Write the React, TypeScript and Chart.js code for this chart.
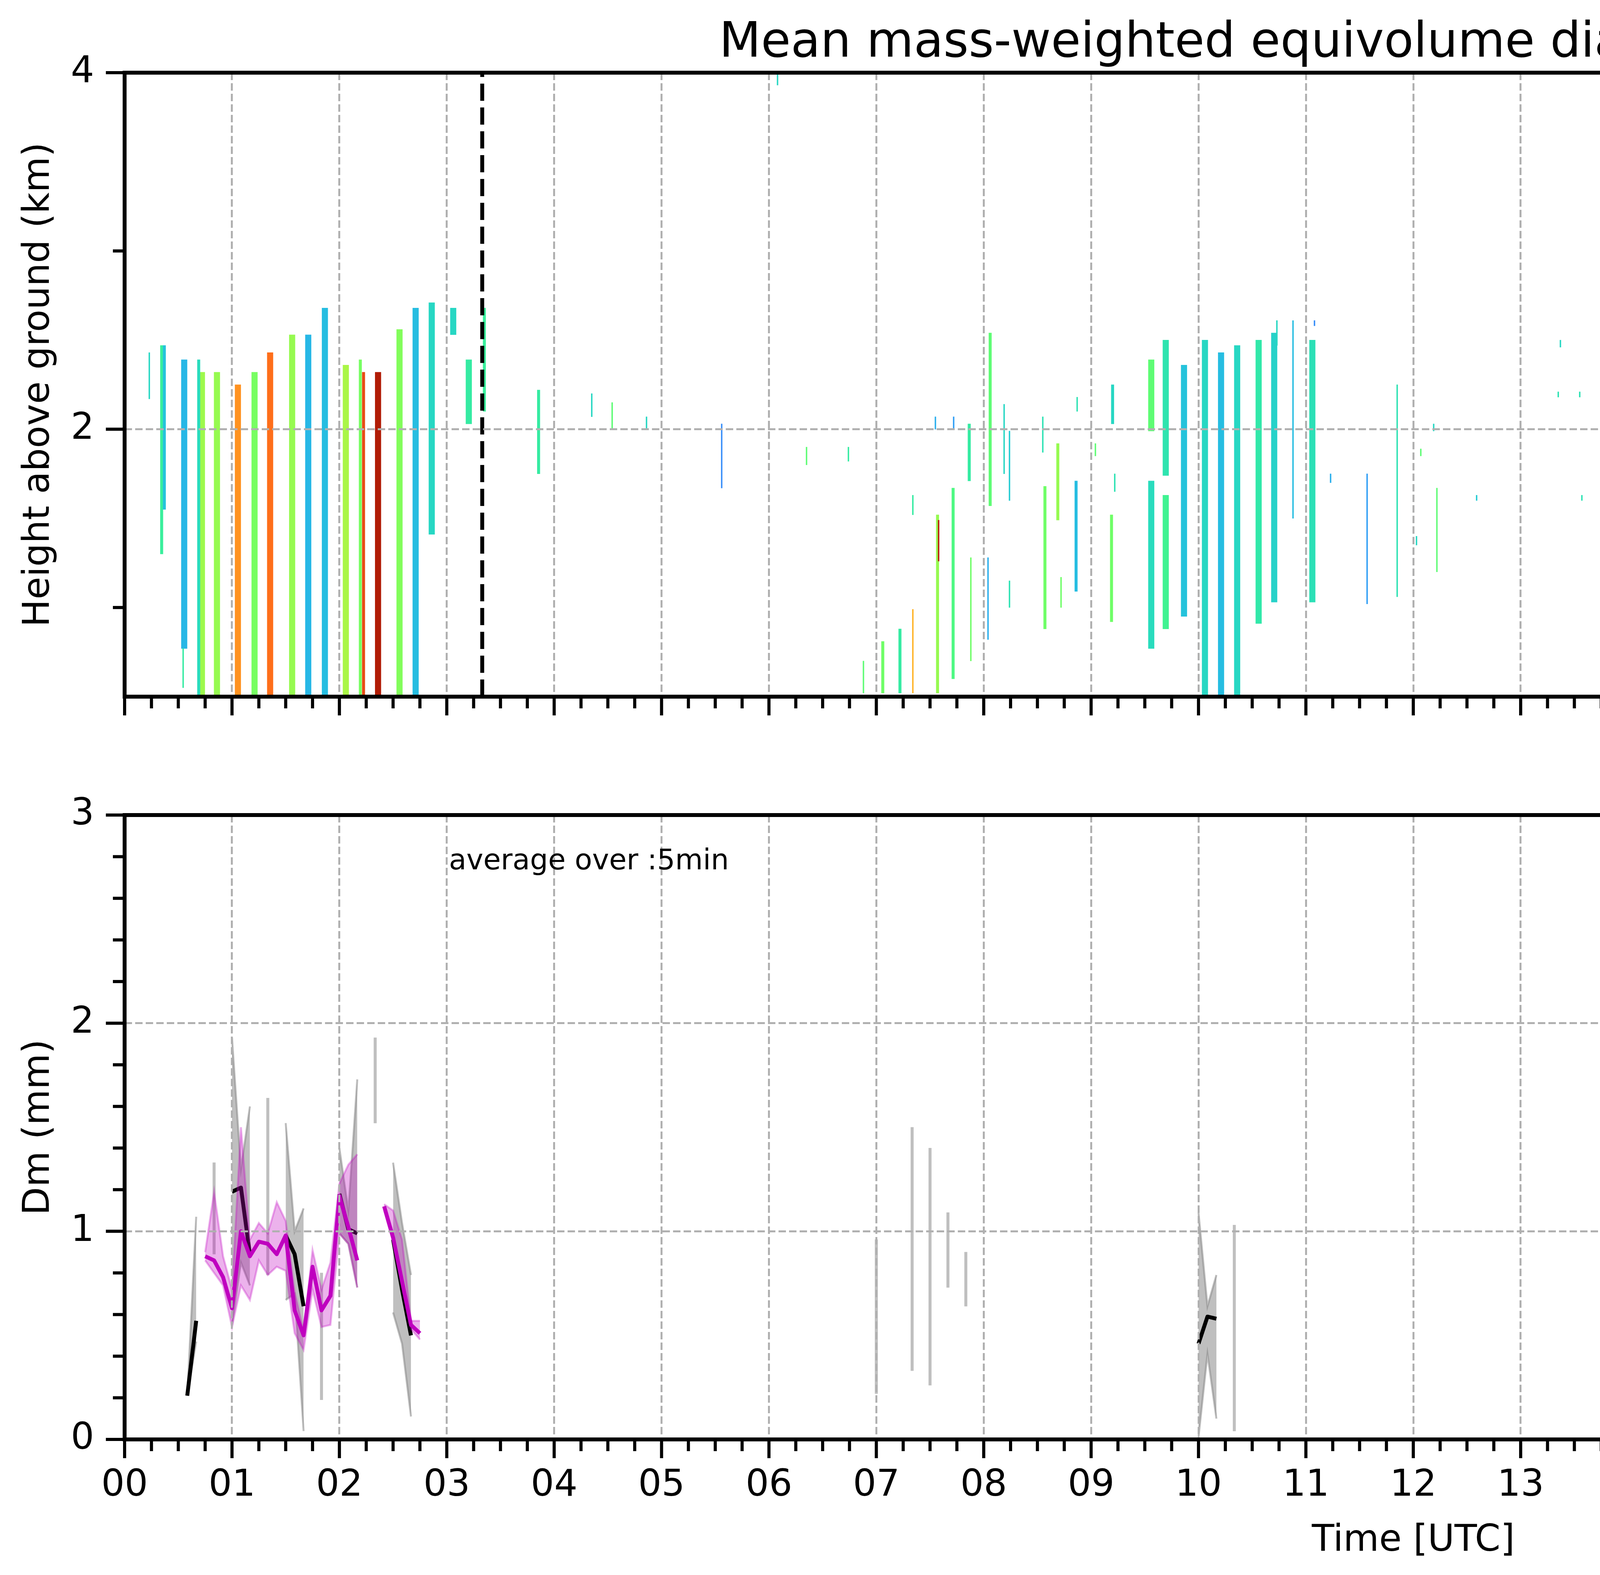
import { useEffect, useRef } from "react"
import { Chart, registerables } from "chart.js"

Chart.register(...registerables)

const FONT = "'DejaVu Sans', 'Liberation Sans', sans-serif"
Chart.defaults.font.family = FONT
Chart.defaults.color = "#000"

// ---------- top panel: radar Dm echoes [hour, base km, top km, Dm mm] ----------
const rainColumns: number[][] = [
  [0.555, 0.77, 2.39, 0.48],
  [0.72, 0.5, 2.32, 1.02],
  [0.86, 0.5, 2.32, 1.0],
  [1.055, 0.5, 2.25, 1.45],
  [1.21, 0.5, 2.32, 0.92],
  [1.355, 0.5, 2.43, 1.55],
  [1.56, 0.5, 2.53, 1.0],
  [1.71, 0.5, 2.53, 0.48],
  [1.865, 0.5, 2.68, 0.5],
  [2.06, 0.5, 2.36, 1.05],
  [2.36, 0.5, 2.32, 1.82],
  [2.56, 0.5, 2.56, 0.95],
  [2.71, 0.5, 2.68, 0.5],
  [2.86, 1.41, 2.71, 0.6],
  [3.06, 2.53, 2.68, 0.6],
  [3.205, 2.03, 2.39, 0.7],
  [9.56, 1.99, 2.39, 0.85],
  [9.56, 0.77, 1.71, 0.62],
  [9.695, 1.74, 2.5, 0.66],
  [9.695, 0.88, 1.63, 0.75],
  [9.865, 0.95, 2.36, 0.52],
  [10.06, 0.5, 2.5, 0.6],
  [10.21, 0.5, 2.43, 0.5],
  [10.36, 0.5, 2.47, 0.6],
  [10.56, 0.91, 2.5, 0.68],
  [10.705, 1.03, 2.54, 0.58],
  [11.06, 1.03, 2.5, 0.64],
  [18.06, 0.52, 2.36, 0.68],
]

const echoStrips: number[][] = [
  [0.345, 1.3, 2.47, 0.72],
  [0.37, 1.55, 2.47, 0.52],
  [0.69, 0.5, 2.39, 0.62],
  [2.195, 0.5, 2.39, 0.92],
  [2.225, 0.5, 2.32, 1.65],
  [3.35, 2.1, 2.68, 0.72],
  [3.855, 1.75, 2.22, 0.7],
  [7.06, 0.52, 0.81, 0.9],
  [7.22, 0.52, 0.88, 0.7],
  [7.57, 0.52, 1.52, 1.0],
  [7.715, 0.6, 1.67, 0.8],
  [7.865, 1.71, 2.03, 0.7],
  [8.06, 1.57, 2.54, 0.85],
  [8.57, 0.88, 1.68, 0.9],
  [8.69, 1.49, 1.92, 1.0],
  [8.86, 1.09, 1.71, 0.5],
  [9.2, 2.03, 2.25, 0.6],
  [9.19, 0.92, 1.52, 0.9],
  [18.2, 0.52, 1.16, 0.5],
  [21.35, 3.26, 3.62, 0.6],
  [23.19, 3.58, 3.77, 0.65],
]

const echoSpecks: number[][] = [
  [0.23, 2.17, 2.43, 0.6],
  [0.545, 0.55, 0.77, 0.7],
  [4.35, 2.07, 2.2, 0.6],
  [4.54, 2.0, 2.15, 0.85],
  [4.86, 2.0, 2.07, 0.6],
  [5.56, 1.67, 2.03, 0.35],
  [6.08, 3.93, 3.99, 0.6],
  [6.35, 1.8, 1.9, 0.85],
  [6.74, 1.82, 1.9, 0.7],
  [6.88, 0.52, 0.7, 0.85],
  [7.34, 1.52, 1.63, 0.7],
  [7.34, 0.52, 0.99, 1.35],
  [7.58, 1.26, 1.49, 1.8],
  [7.55, 2.0, 2.07, 0.45],
  [7.72, 2.0, 2.07, 0.4],
  [7.88, 0.7, 1.28, 0.9],
  [8.04, 0.82, 1.28, 0.45],
  [8.19, 1.75, 2.14, 0.6],
  [8.24, 1.6, 1.99, 0.55],
  [8.24, 1.0, 1.15, 0.65],
  [8.55, 1.87, 2.07, 0.65],
  [8.72, 1.0, 1.17, 0.9],
  [8.87, 2.1, 2.18, 0.65],
  [9.04, 1.85, 1.92, 0.85],
  [9.22, 1.65, 1.75, 0.65],
  [10.73, 2.47, 2.61, 0.6],
  [10.88, 1.5, 2.61, 0.5],
  [11.08, 2.58, 2.61, 0.35],
  [11.23, 1.7, 1.75, 0.45],
  [11.57, 1.02, 1.75, 0.4],
  [11.85, 1.06, 2.25, 0.65],
  [12.03, 1.35, 1.4, 0.6],
  [12.07, 1.85, 1.89, 0.85],
  [12.19, 1.99, 2.03, 0.6],
  [12.22, 1.2, 1.67, 0.85],
  [12.59, 1.6, 1.63, 0.55],
  [13.37, 2.46, 2.5, 0.6],
  [13.35, 2.18, 2.21, 0.65],
  [13.55, 2.18, 2.21, 0.65],
  [13.57, 1.6, 1.63, 0.65],
  [14.55, 1.96, 2.03, 0.7],
  [14.74, 1.92, 2.15, 1.05],
  [14.72, 1.81, 1.96, 0.6],
  [15.22, 3.83, 3.87, 0.3],
  [15.2, 1.9, 1.99, 0.8],
  [15.35, 1.78, 1.92, 0.5],
  [16.06, 2.57, 2.6, 0.6],
  [16.36, 2.18, 2.21, 0.6],
  [16.7, 1.92, 2.03, 0.55],
  [16.85, 1.7, 1.74, 0.4],
  [17.87, 1.67, 1.96, 0.35],
  [18.2, 1.81, 1.96, 0.55],
  [18.53, 2.5, 2.54, 1.25],
  [20.38, 3.4, 3.44, 0.6],
  [20.89, 3.69, 3.73, 0.35],
  [21.23, 2.33, 2.65, 0.75],
  [21.35, 1.6, 1.68, 0.55],
  [21.58, 3.73, 3.8, 0.65],
  [22.58, 3.44, 3.51, 0.5],
  [23.2, 3.3, 3.44, 0.6],
  [23.55, 3.4, 3.43, 0.6],
  [23.56, 3.42, 3.53, 0.75],
  [23.85, 3.77, 3.87, 0.8],
]

const heightRange = [0.5, 4]
const heightTicks = [2, 4]
const heightMinor = [1, 3]
const missingSpan = [23.89, 24]
const segmentMarkers = [3.33, 19.25]

// ---------- bottom panel: 5-min Dm statistics (minutes of day, mm) ----------
const radarMinutes = [
  35, 40, 45, 50, 55, 60, 65, 70, 75, 80, 85, 90, 95, 100, 105, 110, 115, 120, 125, 130, 135, 140, 145, 150, 155, 160,
  165, 415, 420, 425, 435, 440, 445, 450, 455, 460, 465, 470, 475, 595, 600, 605, 610, 615, 620, 625, 1075, 1080, 1085,
  1090, 1095,
]
const radarMedian = [
  0.21, 0.57, null, 1.1, null, 1.19, 1.21, 0.89, null, 1.2, null, 0.98, 0.89, 0.64, null, 0.45, null, 1.18, 1.01, 0.99,
  null, 1.72, null, 0.96, 0.72, 0.5, null, null, 0.6, null, null, 0.9, null, 0.8, null, 0.9, null, 0.77, null, null, 0.46,
  0.59, 0.58, null, 0.5, null, null, 0.5, null, 0.6, null,
]
const radarMin = [
  0.21, 0.47, null, 0.89, null, 0.55, 0.85, 0.74, null, 0.79, null, 0.67, 0.7, 0.04, null, 0.19, null, 0.99, 0.94, 0.73,
  null, 1.52, null, 0.61, 0.46, 0.11, null, null, 0.22, null, null, 0.33, null, 0.26, null, 0.73, null, 0.64, null, null,
  0.01, 0.41, 0.1, null, 0.04, null, null, 0.02, null, 0.25, null,
]
const radarMax = [
  0.21, 1.07, null, 1.33, null, 1.93, 1.3, 1.6, null, 1.64, null, 1.52, 1.0, 1.11, null, 0.8, null, 1.4, 1.1, 1.73, null,
  1.93, null, 1.33, 1.04, 0.79, null, null, 0.96, null, null, 1.5, null, 1.4, null, 1.09, null, 0.9, null, null, 1.09,
  0.64, 0.79, null, 1.03, null, null, 1.03, null, 0.95, null,
]

const parsivelMinutes = [
  45, 50, 55, 60, 65, 70, 75, 80, 85, 90, 95, 100, 105, 110, 115, 120, 125, 130, 135, 140, 145, 150, 155, 160, 165,
]
const parsivelMedian = [
  0.88, 0.86, 0.78, 0.63, 1.0, 0.88, 0.95, 0.94, 0.89, 0.98, 0.62, 0.5, 0.83, 0.62, 0.69, 1.17, 1.02, 0.86, null, null,
  1.12, 0.97, 0.76, 0.55, 0.51,
]
const parsivelMin = [
  0.86, 0.8, 0.74, 0.54, 0.74, 0.67, 0.86, 0.79, 0.83, 0.81, 0.51, 0.43, 0.72, 0.54, 0.55, 0.99, 0.94, 0.73, null, null,
  1.1, 0.95, 0.74, 0.53, 0.48,
]
const parsivelMax = [
  0.9, 1.19, 0.88, 0.72, 1.5, 0.96, 1.04, 0.99, 1.14, 1.05, 0.71, 0.52, 0.91, 0.72, 0.85, 1.23, 1.32, 1.37, null, null,
  1.13, 1.1, 0.96, 0.57, 0.57,
]

const dmTicks = [0, 1, 2, 3]
const colorbarTicks = [0, 0.4, 0.8, 1.2, 1.6, 2.0]
const legendLabels = [
  "Min-Max Range radar Dm",
  "radar(xmacs-wmacs)_Dm_median",
  "Min-Max Range parsivel Dm",
  "parsivel_Dm_median",
]

const hourTicks = Array.from({ length: 25 }, (_, i) => i)
const quarterTicks = Array.from({ length: 97 }, (_, i) => i / 4).filter((v) => v % 1 !== 0)
const dmMinor = Array.from({ length: 16 }, (_, i) => i / 5).filter((v) => v % 1 !== 0)

// turbo colormap (polynomial fit)
function turbo(t: number) {
  const x = Math.min(1, Math.max(0, t))
  const r = 0.13572138 + x * (4.6153926 + x * (-42.66032258 + x * (132.13108234 + x * (-152.94239396 + x * 59.28637943))))
  const g = 0.09140261 + x * (2.19418839 + x * (4.84296658 + x * (-14.18503333 + x * (4.27729857 + x * 2.82956604))))
  const b = 0.1066733 + x * (12.64194608 + x * (-60.58204836 + x * (110.36276771 + x * (-89.90310912 + x * 27.34824973))))
  const c = (v: number) => Math.round(255 * Math.min(1, Math.max(0, v)))
  return `rgb(${c(r)},${c(g)},${c(b)})`
}

const cbMax = colorbarTicks[colorbarTicks.length - 1]

function echoDataset(rows: number[][], thickness: number): any {
  return {
    type: "bar",
    data: rows.map(([t, lo, hi]) => ({ x: t, y: [lo, hi] })),
    backgroundColor: rows.map((r) => turbo(r[3] / cbMax)),
    borderWidth: 0,
    barThickness: thickness,
    grouped: false,
    order: 1,
  }
}

const toPoints = (mins: number[], vals: (number | null)[]) => mins.map((m, i) => ({ x: m / 60, y: vals[i] }))

// ranges with no neighbours are drawn as thin vertical bars
const isolatedRanges = (mins: number[], lo: (number | null)[], hi: (number | null)[]) =>
  mins.flatMap((m, i) =>
    hi[i] != null && hi[i - 1] == null && hi[i + 1] == null ? [{ x: m / 60, y: [lo[i], hi[i]] }] : []
  )

// fixed axis box sizes, no extra label padding around the plot area
const fixWidth = (w: number) => (s: any) => {
  s.width = w
  s.paddingTop = 0
  s.paddingBottom = 0
}
const fixHeight = (h: number) => (s: any) => {
  s.height = h
  s.paddingLeft = 0
  s.paddingRight = 0
}

// axis frame + matplotlib-like major/minor tick marks
function axesDecor(id: string, yMajor: number[], yMinor: number[], extra?: (chart: any) => void) {
  return {
    id,
    afterDraw(chart: any) {
      const { ctx, chartArea: a, scales } = chart
      ctx.save()
      ctx.strokeStyle = "#000"
      ctx.lineCap = "butt"
      ctx.lineWidth = 8
      const tick = (x1: number, y1: number, x2: number, y2: number) => {
        ctx.beginPath()
        ctx.moveTo(x1, y1)
        ctx.lineTo(x2, y2)
        ctx.stroke()
      }
      hourTicks.forEach((v) => {
        const px = scales.x.getPixelForValue(v)
        tick(px, a.bottom, px, a.bottom + 48)
      })
      quarterTicks.forEach((v) => {
        const px = scales.x.getPixelForValue(v)
        tick(px, a.bottom, px, a.bottom + 30)
      })
      yMajor.forEach((v) => {
        const py = scales.y.getPixelForValue(v)
        tick(a.left - 48, py, a.left, py)
      })
      yMinor.forEach((v) => {
        const py = scales.y.getPixelForValue(v)
        tick(a.left - 30, py, a.left, py)
      })
      ctx.lineWidth = 10
      ctx.strokeRect(a.left, a.top, a.right - a.left, a.bottom - a.top)
      ctx.restore()
      if (extra) extra(chart)
    },
  }
}

const gridStyle = {
  color: "#b0b0b0",
  lineWidth: 5,
  drawTicks: false,
  z: 1,
  offset: false,
}
const gridBorder = { display: false, dash: [19, 8] }

export default function App() {
  const topRef = useRef<HTMLCanvasElement>(null)
  const bottomRef = useRef<HTMLCanvasElement>(null)
  const barRef = useRef<HTMLCanvasElement>(null)

  useEffect(() => {
    if (!topRef.current || !bottomRef.current || !barRef.current) return

    const top = new Chart(topRef.current, {
      type: "line",
      data: {
        datasets: [
          ...segmentMarkers.map((h) => ({
            type: "line",
            data: heightRange.map((y) => ({ x: h, y })),
            borderColor: "#000",
            borderWidth: 10,
            borderDash: [44, 17],
            pointRadius: 0,
            order: 0,
          })),
          echoDataset(echoSpecks, 3),
          echoDataset(echoStrips, 7),
          echoDataset(rainColumns, 15),
          {
            type: "line",
            data: missingSpan.map((x) => ({ x, y: heightRange[1] })),
            fill: "start",
            backgroundColor: "#dcdcdc",
            borderWidth: 0,
            pointRadius: 0,
            order: 3,
          },
        ] as any,
      },
      options: {
        animation: false,
        responsive: false,
        devicePixelRatio: 1,
        layout: { padding: { top: 186, right: 23, bottom: 0, left: 0 } },
        plugins: { legend: { display: false }, tooltip: { enabled: false } },
        scales: {
          x: {
            type: "linear",
            min: 0,
            max: 24,
            offset: false,
            afterBuildTicks: (s: any) => {
              s.ticks = hourTicks.map((value) => ({ value }))
            },
            afterFit: fixHeight(60),
            ticks: { display: false },
            grid: gridStyle,
            border: gridBorder,
          },
          y: {
            type: "linear",
            min: heightRange[0],
            max: heightRange[1],
            afterBuildTicks: (s: any) => {
              s.ticks = heightTicks.map((value) => ({ value }))
            },
            afterFit: fixWidth(319),
            ticks: { font: { size: 94 }, padding: 78, color: "#000" },
            grid: gridStyle,
            border: gridBorder,
            title: {
              display: true,
              text: "Height above ground (km)",
              font: { size: 94 },
              color: "#000",
              padding: { top: 44, bottom: 0 },
            },
          },
        },
      } as any,
      plugins: [
        axesDecor("topDecor", heightTicks, heightMinor, (chart) => {
          const { ctx, chartArea: a } = chart
          ctx.save()
          ctx.fillStyle = "#000"
          ctx.font = `124px ${FONT}`
          ctx.textAlign = "center"
          ctx.textBaseline = "alphabetic"
          ctx.fillText("Mean mass-weighted equivolume diameter on 20260706", (a.left + a.right) / 2, 145)
          ctx.restore()
        }),
      ],
    })

    const bandGrey = "rgba(128,128,128,0.5)"
    const bandPink = "rgba(191,0,191,0.3)"

    const bottom = new Chart(bottomRef.current, {
      type: "line",
      data: {
        datasets: [
          {
            label: legendLabels[3],
            data: toPoints(parsivelMinutes, parsivelMedian),
            borderColor: "#bf00bf",
            borderWidth: 10,
            pointRadius: 0,
            fill: false,
            borderJoinStyle: "round",
            order: 0,
          },
          {
            label: legendLabels[2],
            data: toPoints(parsivelMinutes, parsivelMax),
            borderColor: bandPink,
            backgroundColor: bandPink,
            borderWidth: 5,
            pointRadius: 0,
            fill: "+1",
            order: 1,
          },
          {
            data: toPoints(parsivelMinutes, parsivelMin),
            borderColor: bandPink,
            borderWidth: 5,
            pointRadius: 0,
            fill: false,
            order: 1,
          },
          {
            label: legendLabels[1],
            data: toPoints(radarMinutes, radarMedian),
            borderColor: "#000",
            borderWidth: 10,
            pointRadius: 0,
            fill: false,
            borderJoinStyle: "round",
            order: 2,
          },
          {
            label: legendLabels[0],
            data: toPoints(radarMinutes, radarMax),
            borderColor: bandGrey,
            backgroundColor: bandGrey,
            borderWidth: 5,
            pointRadius: 0,
            fill: "+1",
            order: 3,
          },
          {
            data: toPoints(radarMinutes, radarMin),
            borderColor: bandGrey,
            borderWidth: 5,
            pointRadius: 0,
            fill: false,
            order: 3,
          },
          {
            type: "bar",
            data: isolatedRanges(radarMinutes, radarMin, radarMax),
            backgroundColor: "rgba(128,128,128,0.5)",
            borderWidth: 0,
            barThickness: 7,
            grouped: false,
            order: 4,
          },
        ] as any,
      },
      options: {
        animation: false,
        responsive: false,
        devicePixelRatio: 1,
        spanGaps: false,
        layout: { padding: { top: 186, right: 23, bottom: 0, left: 0 } },
        plugins: { legend: { display: false }, tooltip: { enabled: false } },
        scales: {
          x: {
            type: "linear",
            min: 0,
            max: 24,
            offset: false,
            afterBuildTicks: (s: any) => {
              s.ticks = hourTicks.map((value) => ({ value }))
            },
            afterFit: fixHeight(347),
            ticks: {
              font: { size: 94 },
              padding: 63,
              color: "#000",
              autoSkip: false,
              maxRotation: 0,
              callback: (v: any) => (v < 24 ? String(v).padStart(2, "0") : ""),
            },
            grid: gridStyle,
            border: gridBorder,
            title: {
              display: true,
              text: "Time [UTC]",
              font: { size: 94 },
              color: "#000",
              padding: { top: 0, bottom: 30 },
            },
          },
          y: {
            type: "linear",
            min: 0,
            max: 3,
            afterBuildTicks: (s: any) => {
              s.ticks = dmTicks.map((value) => ({ value }))
            },
            afterFit: fixWidth(319),
            ticks: { font: { size: 94 }, padding: 78, color: "#000" },
            grid: gridStyle,
            border: gridBorder,
            title: {
              display: true,
              text: "Dm (mm)",
              font: { size: 94 },
              color: "#000",
              padding: { top: 44, bottom: 0 },
            },
          },
        },
      } as any,
      plugins: [
        axesDecor("bottomDecor", dmTicks, dmMinor, (chart) => {
          const { ctx, chartArea: a, scales } = chart
          const ds = chart.data.datasets as any[]
          ctx.save()
          // annotation
          ctx.fillStyle = "#000"
          ctx.font = `73px ${FONT}`
          ctx.textAlign = "left"
          ctx.textBaseline = "middle"
          ctx.fillText("average over :5min", scales.x.getPixelForValue(3.02), scales.y.getPixelForValue(2.775))
          // legend box
          const w = 1433
          const h = 435
          const left = a.right - 34 - w
          const topY = a.top + 33
          ctx.beginPath()
          ctx.roundRect(left, topY, w, h, 14)
          ctx.fillStyle = "rgba(255,255,255,0.8)"
          ctx.fill()
          ctx.lineWidth = 5
          ctx.strokeStyle = "rgba(204,204,204,0.8)"
          ctx.stroke()
          legendLabels.forEach((label, i) => {
            const d = ds.find((x) => x.label === label)
            const cy = topY + 58 + i * 103
            const hx = left + 23
            if (d.fill) {
              ctx.fillStyle = d.backgroundColor
              ctx.fillRect(hx, cy - 26, 145, 52)
              ctx.strokeStyle = d.borderColor
              ctx.lineWidth = 5
              ctx.strokeRect(hx, cy - 26, 145, 52)
            } else {
              ctx.strokeStyle = d.borderColor
              ctx.lineWidth = 10
              ctx.beginPath()
              ctx.moveTo(hx, cy)
              ctx.lineTo(hx + 145, cy)
              ctx.stroke()
            }
            ctx.fillStyle = "#000"
            ctx.font = `69px ${FONT}`
            ctx.textAlign = "left"
            ctx.textBaseline = "middle"
            ctx.fillText(label, left + 224, cy)
          })
          ctx.restore()
        }),
      ],
    })

    const colorbar = new Chart(barRef.current, {
      type: "bar",
      data: {
        labels: ["Dm"],
        datasets: [
          {
            data: [[colorbarTicks[0], cbMax]],
            backgroundColor: (c: any) => {
              const a = c.chart.chartArea
              if (!a) return "transparent"
              const g = c.chart.ctx.createLinearGradient(0, a.bottom, 0, a.top)
              for (let i = 0; i <= 40; i++) g.addColorStop(i / 40, turbo(i / 40))
              return g
            },
            borderWidth: 0,
            barPercentage: 1,
            categoryPercentage: 1,
          },
        ] as any,
      },
      options: {
        animation: false,
        responsive: false,
        devicePixelRatio: 1,
        layout: { padding: { top: 186, right: 0, bottom: 60, left: 92 } },
        plugins: { legend: { display: false }, tooltip: { enabled: false } },
        scales: {
          x: { display: false },
          y: {
            position: "right",
            min: colorbarTicks[0],
            max: cbMax,
            afterBuildTicks: (s: any) => {
              s.ticks = colorbarTicks.map((value) => ({ value }))
            },
            afterFit: fixWidth(337),
            ticks: { font: { size: 84 }, padding: 30, color: "#000", callback: (v: any) => Number(v).toFixed(1) },
            grid: { drawOnChartArea: false, drawTicks: true, tickLength: 22, tickWidth: 8, tickColor: "#000", color: "#000" },
            border: { display: false },
          },
        },
      } as any,
      plugins: [
        {
          id: "cbFrame",
          afterDraw(chart: any) {
            const { ctx, chartArea: a } = chart
            ctx.save()
            ctx.strokeStyle = "#000"
            ctx.lineWidth = 7
            ctx.strokeRect(a.left, a.top, a.right - a.left, a.bottom - a.top)
            ctx.translate(a.right + 245, (a.top + a.bottom) / 2)
            ctx.rotate(-Math.PI / 2)
            ctx.fillStyle = "#000"
            ctx.font = `84px ${FONT}`
            ctx.textAlign = "center"
            ctx.textBaseline = "middle"
            ctx.fillText("Dm (mm)", 0, 0)
            ctx.restore()
          },
        },
      ],
    })

    return () => {
      top.destroy()
      bottom.destroy()
      colorbar.destroy()
    }
  }, [])

  const abs = (left: number, topPx: number, width: number, height: number): any => ({
    position: "absolute",
    left,
    top: topPx,
    width,
    height,
    display: "block",
  })

  return (
    <div style={{ position: "absolute", left: 0, top: 0, width: 7442, height: 4031, background: "#fff", overflow: "hidden" }}>
      <canvas ref={topRef} width={6940} height={1843} style={abs(0, 0, 6940, 1843)} />
      <canvas ref={bottomRef} width={6940} height={2131} style={abs(0, 1900, 6940, 2131)} />
      <canvas ref={barRef} width={542} height={1843} style={abs(6900, 0, 542, 1843)} />
    </div>
  )
}
